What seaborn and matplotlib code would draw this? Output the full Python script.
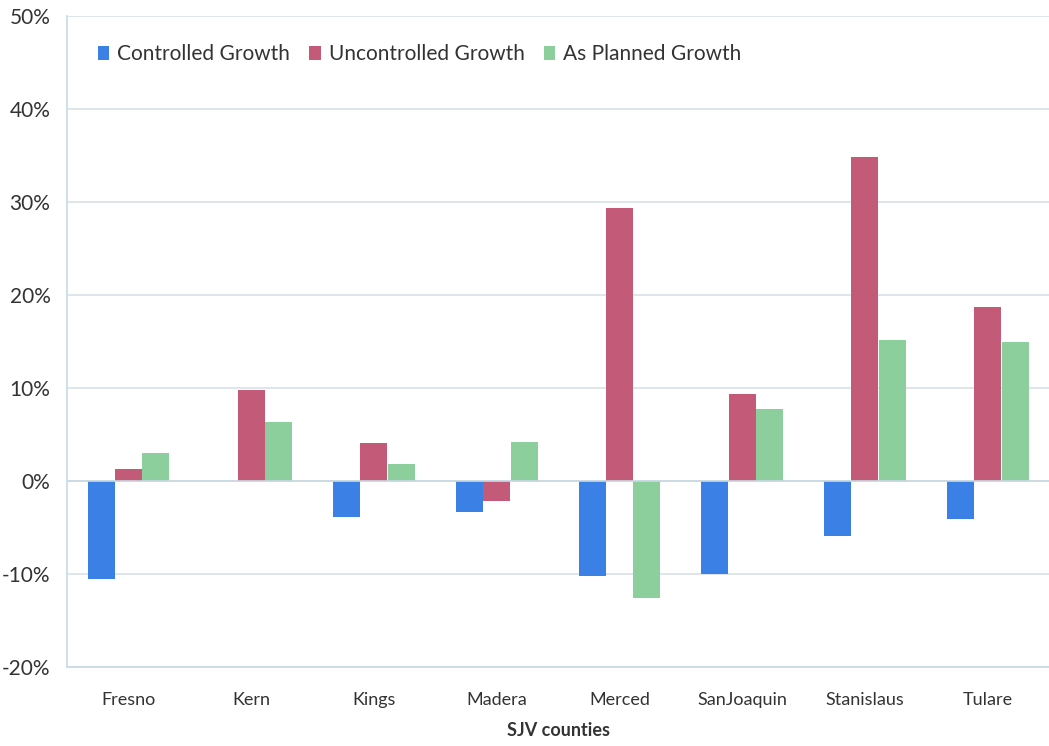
import matplotlib
matplotlib.use("Agg")
import matplotlib.pyplot as plt
import seaborn as sns
import pandas as pd
from matplotlib.ticker import FuncFormatter

counties = ["Fresno", "Kern", "Kings", "Madera", "Merced", "SanJoaquin", "Stanislaus", "Tulare"]
controlled = [-10.5, 0.0, -3.9, -3.4, -10.2, -10.0, -5.9, -4.1]
uncontrolled = [1.3, 9.8, 4.1, -2.2, 29.3, 9.3, 34.8, 18.7]
as_planned = [3.0, 6.3, 1.8, 4.2, -12.6, 7.7, 15.1, 14.9]
series_names = ["Controlled Growth", "Uncontrolled Growth", "As Planned Growth"]
y_ticks = [-20, -10, 0, 10, 20, 30, 40, 50]

df = pd.DataFrame({
    "county": counties * 3,
    "scenario": [series_names[0]] * 8 + [series_names[1]] * 8 + [series_names[2]] * 8,
    "value": controlled + uncontrolled + as_planned,
})

sns.set_theme(style="white")
plt.rcParams["font.family"] = ["Lato", "DejaVu Sans"]

palette = {series_names[0]: "#3b80e4", series_names[1]: "#c25a78", series_names[2]: "#8ccf9c"}

fig = plt.figure(figsize=(10.49, 7.46), dpi=100)
ax = fig.add_axes([0.064, 0.106, 0.936, 0.873])

sns.barplot(data=df, x="county", y="value", hue="scenario", palette=palette,
            width=0.67, gap=0.015, ax=ax, saturation=1, edgecolor="none")

ax.set_ylim(-20, 50)
ax.set_yticks(y_ticks)
ax.yaxis.set_major_formatter(FuncFormatter(lambda v, p: f"{int(v)}%"))
ax.grid(axis="y", color="#d8e1e7", linewidth=1.2)
ax.set_axisbelow(True)
ax.axhline(0, color="#c9d8e2", linewidth=1.2, zorder=1)

for side in ["top", "right"]:
    ax.spines[side].set_visible(False)
ax.spines["left"].set_color("#c5dbe6")
ax.spines["bottom"].set_color("#c9d8e2")
ax.spines["left"].set_linewidth(1.2)

ax.tick_params(axis="y", labelsize=15, colors="#333333", length=0, pad=12)
ax.tick_params(axis="x", labelsize=13, colors="#333333", length=0, pad=18)
ax.set_ylabel("")
ax.set_xlabel("SJV counties", fontsize=13, fontweight="bold", color="#333333", labelpad=10)

leg = ax.legend(loc="upper left", bbox_to_anchor=(0.012, 0.985), ncol=3, frameon=False,
                fontsize=15, handlelength=0.55, handleheight=0.7, handletextpad=0.4,
                columnspacing=0.9)
for t in leg.get_texts():
    t.set_color("#333333")

fig.savefig("out.png", dpi=100, facecolor="white")
